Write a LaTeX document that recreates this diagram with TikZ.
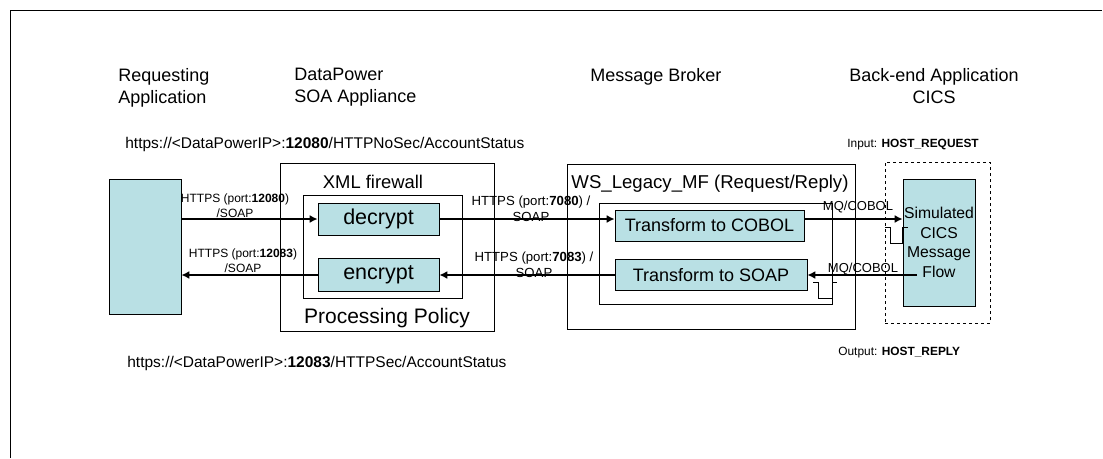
\documentclass[tikz,border=0pt]{standalone}
\usepackage{fontspec}
\setmainfont{Liberation Sans}
\usetikzlibrary{arrows.meta,positioning}
\definecolor{procfill}{RGB}{185,224,228}

\begin{document}
\begin{tikzpicture}[x=1pt,y=-1pt,>={Latex[length=8pt,width=8pt]},
                    line width=0.7pt]
  \tikzstyle{heading}=[font=\fontsize{18}{22}\selectfont,align=left,inner sep=0pt]
  \tikzstyle{address}=[font=\fontsize{15.5}{18}\selectfont,inner sep=0pt,anchor=base west]
  \tikzstyle{outerbox}=[draw,inner sep=0pt]
  \tikzstyle{procbox}=[draw,fill=procfill,inner sep=0pt]
  \tikzstyle{flow}=[->,line width=2.6pt]
  \tikzstyle{portlabel}=[font=\fontsize{12}{15}\selectfont,align=center,inner sep=0pt]
  \tikzstyle{mqlabel}=[font=\fontsize{13}{15}\selectfont,inner sep=0pt]
  \tikzstyle{queuename}=[font=\fontsize{11.9}{14}\selectfont,inner sep=0pt,anchor=base west]

  \useasboundingbox (0,0) rectangle (1103,458);
  \draw (10,458) -- (10,10) -- (1102,10);

  \node[heading,anchor=north west] (reqtitle) at (118,68) {Requesting\\Application};
  \node[heading,anchor=north west] (dptitle)  at (294,68) {DataPower\\SOA Appliance};
  \node[heading,anchor=north west] (mbtitle)  at (590,68) {Message Broker};
  \node[heading,anchor=north,align=center] (cicstitle) at (934,68) {Back-end Application\\CICS};

  \node[address] (inurl)  at (125,148.5) {https://<DataPowerIP>:\textbf{12080}/HTTPNoSec/AccountStatus};
  \node[address] (outurl) at (127,367.5) {https://<DataPowerIP>:\textbf{12083}/HTTPSec/AccountStatus};
  \node[queuename] (inq)  at (847,147.3) {Input: \textbf{HOST\_REQUEST}};
  \node[queuename] (outq) at (838,355.3) {Output: \textbf{HOST\_REPLY}};

  \node[procbox,minimum width=72,minimum height=135] (req) at (145,246.5) {};

  \node[outerbox,minimum width=214,minimum height=168] (dp) at (387,247) {};
  \node[outerbox,minimum width=159,minimum height=103] (policy) at (382.5,246.5) {};
  \node[font=\fontsize{18.4}{22}\selectfont,inner sep=0pt,anchor=base] (fwtitle) at (373,188.6) {XML firewall};
  \node[font=\fontsize{21}{25}\selectfont,inner sep=0pt,anchor=base] (policytitle) at (387,323.5) {Processing Policy};
  \node[procbox,minimum width=121,minimum height=32,font=\fontsize{21.5}{25}\selectfont] (dec) at (378.5,219) {decrypt};
  \node[procbox,minimum width=121,minimum height=33,font=\fontsize{21.5}{25}\selectfont] (enc) at (378.5,275) {encrypt};

  \node[outerbox,minimum width=288,minimum height=165] (mb) at (711,246.5) {};
  \node[outerbox,minimum width=233,minimum height=101] (mbflow) at (715.5,253.5) {};
  \node[font=\fontsize{18.6}{22}\selectfont,inner sep=0pt,anchor=base] (mbname) at (710,188.7) {WS\_Legacy\_MF (Request/Reply)};
  \node[procbox,minimum width=189,minimum height=31,font=\fontsize{18}{22}\selectfont] (cob) at (709.5,225.5) {Transform to COBOL};
  \node[procbox,minimum width=192,minimum height=31,font=\fontsize{18}{22}\selectfont] (soap) at (711,275) {Transform to SOAP};

  \node[outerbox,dashed,minimum width=105,minimum height=161] (backend) at (937.5,242.5) {};
  \node[procbox,minimum width=72,minimum height=127,align=center,
        font=\fontsize{15.7}{19.7}\selectfont] (sim) at (939,242.5) {Simulated\\CICS\\Message\\Flow};
  \coordinate (simout) at (917,275);

  \draw (885,227) -- ++(5,0) -- ++(0,16) -- ++(12,0) -- ++(0,-16) -- ++(6,0);
  \draw (813,282) -- ++(5,0) -- ++(0,16) -- ++(14,0) -- ++(0,-16) -- ++(5,0);

  \node[portlabel] (l12080) at (235,205.5) {HTTPS (port:\textbf{12080})\\/SOAP};
  \node[portlabel,font=\fontsize{13.2}{16}\selectfont] (l7080) at (531,209) {HTTPS (port:\textbf{7080}) /\\SOAP};
  \node[portlabel,font=\fontsize{13.2}{16}\selectfont] (l7083) at (534,265) {HTTPS (port:\textbf{7083}) /\\SOAP};
  \node[portlabel] (l12083) at (243,261) {HTTPS (port:\textbf{12083})\\/SOAP};
  \node[mqlabel] (mqin)  at (858,207) {MQ/COBOL};
  \node[mqlabel] (mqout) at (863,269) {MQ/COBOL};

  \path[flow] (req.east |- dec.west) edge (dec.west)
              (dec.east) edge (dec.east -| cob.west)
              (cob.east |- dec.east) edge (sim.west |- dec.east)
              (simout) edge (soap.east)
              (soap.west) edge (soap.west -| enc.east)
              (enc.west) edge (enc.west -| req.east);
\end{tikzpicture}
\end{document}
